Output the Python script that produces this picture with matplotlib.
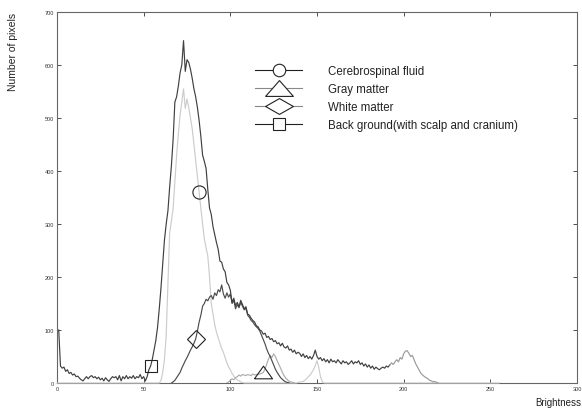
import numpy as np
import matplotlib.pyplot as plt
from matplotlib.lines import Line2D

plt.rcParams['font.family'] = ['Liberation Sans', 'DejaVu Sans']

# total histogram, brightness 1..220
total_start = 1
total_vals = [100, 32, 28, 30, 22, 25, 18, 20, 15, 17, 12, 13, 9, 6, 4, 8, 12, 8, 12, 14,
              10, 12, 8, 11, 6, 9, 4, 10, 6, 3, 8, 12, 10, 12, 6, 14, 4, 12, 8, 14,
              8, 12, 9, 14, 8, 12, 10, 16, 8, 12, 4,
              12, 25, 32, 45, 62, 80, 105, 140, 180, 225, 270, 300, 325, 370, 410, 460, 530, 540, 560,
              585, 600, 646, 588, 610, 605, 592, 575, 555, 540, 520, 495, 465, 430, 418, 405, 365, 330, 318, 295,
              280, 265, 252, 230, 228, 215, 210, 190, 185, 175, 152, 160, 146, 152, 144, 156, 148, 140, 144, 130,
              128, 122, 118, 115, 108, 106, 100, 98, 92, 94, 86, 88, 82, 84, 78, 80, 74, 76, 70, 75,
              68, 66, 70, 62, 64, 58, 62, 55, 58, 56, 50, 55, 48, 52, 46, 50, 45, 52, 62, 50,
              45, 48, 42, 46, 40, 44, 38, 45, 40, 42, 38, 44, 40, 36, 42, 38, 40, 35, 38, 42,
              36, 40, 38, 42, 35, 38, 32, 36, 30, 34, 28, 32, 26, 30, 27, 25, 28, 30, 28, 32,
              30, 34, 38, 35, 40, 44, 40, 48, 45, 55, 60, 61, 56, 50, 52, 44, 36, 30, 24, 18,
              15, 12, 10, 8, 5, 4, 2, 3, 1, 0]
total_split = 192  # tail drawn lighter from here

# light component (circle), defined over 0..255
light_peak_start = 59
light_peak = [0, 5, 20, 45, 90, 190, 284, 305, 330, 380, 429, 470, 505, 530, 555, 518, 536, 520, 500, 480,
              450, 420, 390, 360, 330, 300, 272, 255, 240, 200, 150, 130, 110, 96, 85, 75, 65, 58, 48, 38,
              30, 25, 18, 13, 9, 6, 4, 2, 1, 0]
light_bump_start = 138
light_bump = [0, 1, 2, 2, 3, 5, 8, 12, 15, 20, 25, 33, 42, 30, 12, 3, 0]

# gray matter (triangle)
gray_start = 98
gray_vals = [0, 2, 5, 8, 6, 10, 12, 15, 13, 16, 15, 14, 16, 15, 14, 17, 15, 16, 16, 17,
             18, 20, 26, 36, 45, 52, 48, 55, 50, 42, 35, 28, 20, 14, 9, 6, 3, 2, 1, 0]

# white matter (diamond)
white_start = 66
white_vals = [0, 2, 5, 10, 15, 20, 28, 35, 42, 48, 55, 62, 68, 75, 83, 98, 115, 128, 145, 150,
              158, 155, 162, 165, 158, 170, 165, 176, 172, 185, 168, 160, 170, 162, 168, 150, 156, 140, 148, 142,
              152, 145, 138, 141, 128, 124, 118, 115, 110, 106, 103, 98, 90, 82, 74, 64, 56, 50, 42, 34,
              26, 20, 15, 10, 7, 4, 2, 1, 0]

legend_labels = ['Cerebrospinal fluid', 'Gray matter', 'White matter',
                 'Back ground(with scalp and cranium)']

light_x = np.arange(0, 256)
light_y = np.zeros(256)
light_y[light_peak_start:light_peak_start + len(light_peak)] = light_peak
light_y[light_bump_start:light_bump_start + len(light_bump)] = light_bump

total_x = np.arange(total_start, total_start + len(total_vals))
total_y = np.array(total_vals)
gray_x = np.arange(gray_start, gray_start + len(gray_vals))
gray_y = np.array(gray_vals)
white_x = np.arange(white_start, white_start + len(white_vals))
white_y = np.array(white_vals)

fig = plt.figure(figsize=(5.82, 4.10), dpi=100)
ax = fig.add_axes([57 / 582, 26 / 410, 520 / 582, 371 / 410])

lw = 0.85
ax.plot(light_x, light_y, color='#cccccc', lw=lw, clip_on=False, zorder=3)
ax.plot(gray_x, gray_y, color='#acacac', lw=lw, zorder=3)
ax.plot(white_x, white_y, color='#4c4c4c', lw=lw, zorder=4)
i = total_split - total_start
ax.plot(total_x[:i + 1], total_y[:i + 1], color='#404040', lw=lw, zorder=5)
ax.plot(total_x[i:], total_y[i:], color='#9a9a9a', lw=lw, zorder=5)

# identifying markers sitting on the curves (closed outlines)
mk = dict(mfc='none', mec='#222222', mew=0.8, ls='none', zorder=6)
tri = [(-1, -0.7), (1, -0.7), (0, 0.7), (-1, -0.7)]
ax.plot(light_x[82], light_y[82], marker='o', ms=9.5, **mk)
ax.plot(gray_x[119 - gray_start], gray_y[119 - gray_start], marker=tri, ms=13, **mk)
ax.plot(white_x[80 - white_start], white_y[80 - white_start], marker='D', ms=9, **mk)
ax.plot(total_x[54 - total_start], total_y[54 - total_start], marker='s', ms=8.5, **mk)

ax.set_xlim(0, 300)
ax.set_ylim(0, 700)
ax.set_xticks(range(0, 301, 50))
ax.set_yticks(range(0, 701, 100))
ax.tick_params(direction='in', length=3, width=0.6, labelsize=4, pad=2,
               top=True, right=True, colors='#333333')
for s in ax.spines.values():
    s.set_color('#666666')
    s.set_linewidth(0.8)

# legend
wtri = [(-1, -0.57), (1, -0.57), (0, 0.57), (-1, -0.57)]
wdia = [(-1, 0), (0, 0.57), (1, 0), (0, -0.57), (-1, 0)]
handles = [
    Line2D([], [], color='#222222', lw=0.8, marker='o', ms=9, mfc='white', mec='#222222', mew=0.8),
    Line2D([], [], color='#888888', lw=0.8, marker=wtri, ms=20, mfc='white', mec='#222222', mew=0.8),
    Line2D([], [], color='#888888', lw=0.8, marker=wdia, ms=20, mfc='white', mec='#222222', mew=0.8),
    Line2D([], [], color='#222222', lw=0.8, marker='s', ms=8, mfc='white', mec='#222222', mew=0.8),
]
leg = ax.legend(handles, legend_labels, loc='upper left', bbox_to_anchor=(255 / 582, 1 - 66 / 410),
                bbox_transform=fig.transFigure, frameon=False, fontsize=8.3, handlelength=4.1,
                handletextpad=2.25, labelspacing=0.52, borderpad=0, borderaxespad=0)
for t in leg.get_texts():
    t.set_color('#222222')

fig.text(13.5 / 582, 1 - 13 / 410, 'Number of pixels', rotation=90, ha='center', va='top',
         fontsize=7.5, color='#222222')
fig.text(535 / 582, 1 - 403 / 410, 'Brightness', ha='left', va='center', fontsize=7, color='#222222')

fig.savefig('out.png', dpi=100)
